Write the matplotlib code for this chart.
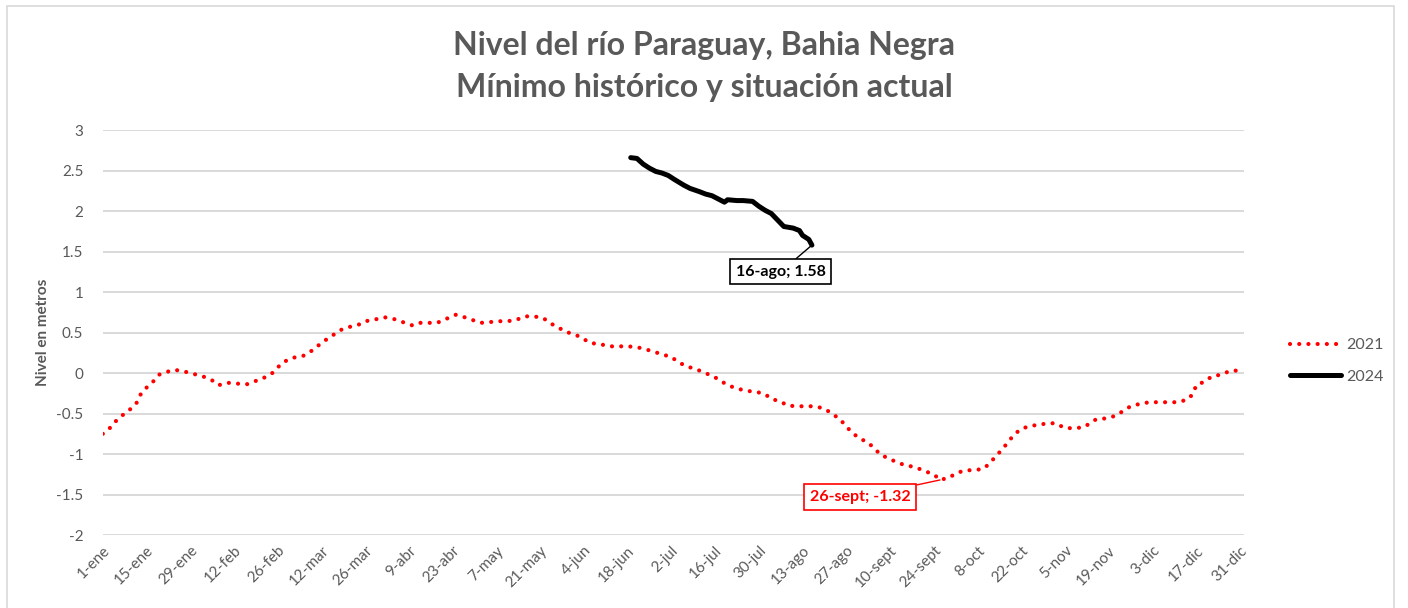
import matplotlib
matplotlib.use("Agg")
import matplotlib.pyplot as plt
from matplotlib.patches import Rectangle
from matplotlib.ticker import FuncFormatter

plt.rcParams["font.family"] = ["Lato", "DejaVu Sans"]

GRAY = "#595959"
GRID = "#d9d9d9"

# día del año (1-ene = 0)
days_2021 = [0, 2, 4, 6, 9, 11, 12, 14, 16, 18, 21, 23, 26, 29, 32, 35, 37, 40, 43, 46,
             48, 51, 54, 56, 58, 61, 64, 66, 69, 71, 73,
             76, 79, 82, 84, 87, 90, 93, 96, 99, 101, 104, 107, 110, 113, 115, 118, 121,
             124, 127, 129, 132, 135, 138, 141, 143, 146, 148,
             151, 154, 156, 159, 162, 165, 168, 171, 173, 176, 179, 182, 184, 187, 190,
             192, 195, 198, 200, 203, 206, 209, 212, 214, 217, 219, 222, 224,
             228, 231, 233, 236, 238, 240, 242, 245, 247, 249, 252, 254, 257, 260, 263,
             266, 268, 271, 273, 276, 279, 282, 284, 286, 288, 290, 292, 294, 297,
             300, 302, 305, 308, 311, 314, 316, 318, 321, 324, 327, 329, 332, 335, 338,
             341, 344, 347, 349, 350, 353, 355, 358, 361, 364]
nivel_2021 = [-0.75, -0.69, -0.60, -0.53, -0.44, -0.36, -0.27, -0.18, -0.11, -0.02,
              0.02, 0.04, 0.02, -0.01, -0.04, -0.09, -0.15, -0.12, -0.13, -0.14,
              -0.11, -0.07, -0.01, 0.07, 0.14, 0.19, 0.21, 0.25, 0.34, 0.40, 0.45,
              0.53, 0.57, 0.60, 0.64, 0.66, 0.69, 0.67, 0.63, 0.59, 0.62, 0.62, 0.62,
              0.67, 0.72, 0.70, 0.66, 0.62, 0.63, 0.64, 0.64, 0.65, 0.70, 0.70, 0.68,
              0.62, 0.56, 0.51,
              0.48, 0.42, 0.37, 0.36, 0.33, 0.33, 0.33, 0.32, 0.30, 0.27, 0.23, 0.20,
              0.14, 0.08, 0.05, 0.01, -0.03, -0.10, -0.15, -0.19, -0.22, -0.23, -0.26,
              -0.32, -0.35, -0.40, -0.41, -0.41,
              -0.41, -0.44, -0.49, -0.57, -0.66, -0.74, -0.80, -0.86, -0.93, -1.01,
              -1.06, -1.10, -1.14, -1.16, -1.21, -1.25, -1.32, -1.29, -1.24, -1.20,
              -1.20, -1.18, -1.11, -1.02, -0.94, -0.84, -0.75, -0.69, -0.65,
              -0.64, -0.62, -0.62, -0.68, -0.68, -0.67, -0.62, -0.57, -0.56, -0.53,
              -0.46, -0.41, -0.38, -0.36, -0.36, -0.36, -0.36, -0.33, -0.26, -0.15,
              -0.10, -0.04, -0.02, 0.03, 0.03]

days_2024 = [169, 171, 173, 175, 177, 179, 181, 183, 186, 188, 191, 193, 195, 197, 199,
             200, 203, 205, 208, 210, 212, 214, 216, 218, 221, 223, 224, 226, 227]
nivel_2024 = [2.66, 2.65, 2.58, 2.53, 2.49, 2.47, 2.44, 2.39, 2.32, 2.28, 2.24, 2.21,
              2.19, 2.15, 2.11, 2.14, 2.13, 2.13, 2.12, 2.06, 2.01, 1.97, 1.89, 1.81,
              1.79, 1.76, 1.70, 1.65, 1.58]

tick_days = list(range(0, 365, 14))
tick_labels = ["1-ene", "15-ene", "29-ene", "12-feb", "26-feb", "12-mar", "26-mar",
               "9-abr", "23-abr", "7-may", "21-may", "4-jun", "18-jun", "2-jul",
               "16-jul", "30-jul", "13-ago", "27-ago", "10-sept", "24-sept", "8-oct",
               "22-oct", "5-nov", "19-nov", "3-dic", "17-dic", "31-dic"]

fig = plt.figure(figsize=(14.08, 6.08), dpi=100)
ax = fig.add_axes([0.073, 0.12, 0.8105, 0.666])

ax.plot(days_2021, nivel_2021, color="#ff0000", linewidth=3.0,
        linestyle=(0, (0.01, 2.2)), dash_capstyle="round", label="2021")
ax.plot(days_2024, nivel_2024, color="black", linewidth=3.6,
        solid_capstyle="round", solid_joinstyle="round", label="2024")

ax.set_xlim(0, 365.3)
ax.set_ylim(-2, 3)
ax.set_yticks([3, 2.5, 2, 1.5, 1, 0.5, 0, -0.5, -1, -1.5, -2])
ax.yaxis.set_major_formatter(FuncFormatter(lambda v, p: f"{v:g}"))
ax.set_xticks(tick_days)
ax.set_xticklabels(tick_labels, rotation=45, ha="right", rotation_mode="anchor")
ax.tick_params(axis="both", length=0, colors=GRAY, labelsize=11)
ax.tick_params(axis="y", pad=14)
ax.tick_params(axis="x", pad=6)
for s in ax.spines.values():
    s.set_visible(False)
ax.grid(True, axis="y", color=GRID, linewidth=1.4)
ax.set_axisbelow(True)

ax.set_ylabel("Nivel en metros", color=GRAY, fontsize=11, fontweight="bold")
ax.yaxis.set_label_coords(-0.046, 0.5)

fig.text(0.5, 0.925, "Nivel del río Paraguay, Bahia Negra", ha="center", va="center",
         fontsize=23, fontweight="bold", color=GRAY)
fig.text(0.5, 0.856, "Mínimo histórico y situación actual", ha="center", va="center",
         fontsize=23, fontweight="bold", color=GRAY)

ax.annotate("16-ago; 1.58", xy=(days_2024[-1], nivel_2024[-1]), xytext=(217, 1.25),
            ha="center", va="center", fontsize=11.5, fontweight="bold", color="black",
            bbox=dict(boxstyle="square,pad=0.35", fc="white", ec="black", lw=1.2),
            arrowprops=dict(arrowstyle="-", color="black", lw=1,
                            shrinkA=0, shrinkB=0))
ax.annotate("26-sept; -1.32", xy=(268, -1.32), xytext=(242.5, -1.53),
            ha="center", va="center", fontsize=11.5, fontweight="bold", color="#ff0000",
            bbox=dict(boxstyle="square,pad=0.35", fc="white", ec="#ff0000", lw=1.2),
            arrowprops=dict(arrowstyle="-", color="#ff0000", lw=1,
                            shrinkA=0, shrinkB=0))

ax.legend(loc="center left", bbox_to_anchor=(1.028, 0.43), frameon=False,
          fontsize=11.5, labelcolor=GRAY, handlelength=3.2, labelspacing=1.1,
          handletextpad=0.3)

fig.patches.append(Rectangle((0.005, -0.01), 0.985, 1.0, transform=fig.transFigure,
                             fill=False, edgecolor=GRID, linewidth=1.2))

fig.savefig("out.png", dpi=100)
